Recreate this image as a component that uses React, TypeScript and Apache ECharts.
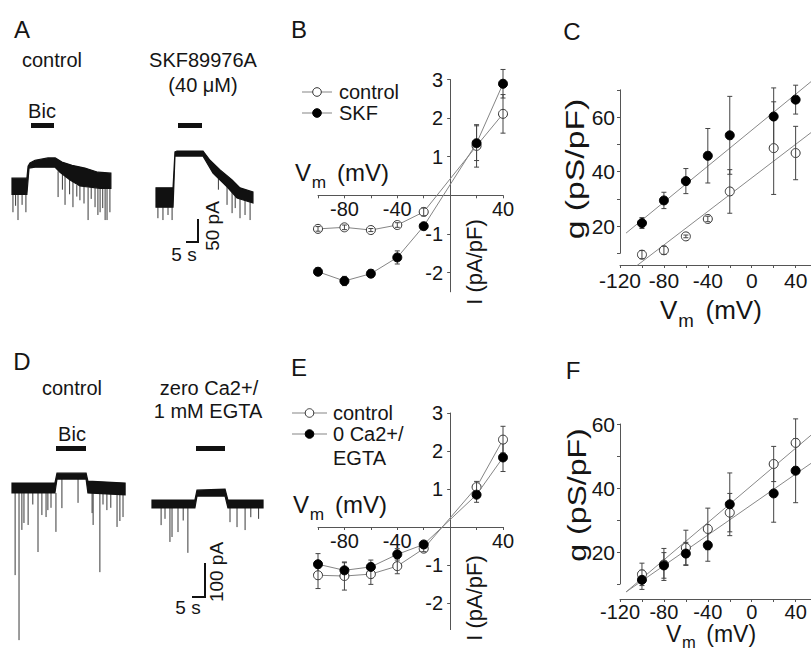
import React, { useEffect, useRef } from 'react';
import * as echarts from 'echarts';

const FONT = '"Liberation Sans", Arial, Helvetica, sans-serif';
const INK = '#151515';
const AXIS = '#555';
const LINE = '#858585';

// ---------- Panel A / D current traces (time s, current pA) ----------
const aCtrlTopT = [0, 6.2, 6.7, 7.5, 9.6, 15, 18, 20.8, 25, 30.4, 35.8, 41.2];
const aCtrlTopI = [15, 15, 41, 48, 54, 59, 59, 50, 43, 37, 28, 26];
const aCtrlBotT = [0, 6.2, 7.1, 9.6, 17.9, 20, 24.2, 28.3, 36.7, 41.2];
const aCtrlBotI = [-20, -20, 37, 39, 39, 28, 11, -2, -7, -7];
const aCtrlSpikes = [
  [0.4, -17, -59], [1.5, -17, -45], [2.5, -17, -76], [4.2, -17, -43], [5.8, -17, -59],
  [19.2, 30, -26], [21, 25, -10], [22.1, 20, -43], [24, 12, -20], [25.4, 8, -48],
  [27, 0, -25], [28.3, -2, -33], [30, -4, -40], [31.7, -5, -76], [33, -5, -30],
  [34.6, -6, -48], [35.8, -6, -65], [36.7, -7, -59], [37.8, -7, -50],
  [38.8, -7, -76], [39.6, -7, -76], [40.8, -7, -59],
];

const aSkfTopT = [0, 7.1, 7.9, 8.75, 19.6, 22.5, 26.7, 31.7, 35, 40.4];
const aSkfTopI = [-6, -6, 72, 74, 74, 54, 33, 11, -6, -15];
const aSkfBotT = [0, 7.1, 7.9, 19.6, 23.75, 29.6, 33.75, 40.4];
const aSkfBotI = [-48, -48, 63, 63, 26, -4, -28, -39];
const aSkfSpikes = [
  [0.8, -48, -72], [2.9, -48, -76], [5, -48, -65], [6.7, -48, -76],
  [26, 15, -10], [29.6, -4, -43], [31.7, -15, -61], [33, -20, -50],
  [35, -25, -72], [37.1, -32, -65], [39.2, -36, -76],
];

const dCtrlTopT = [0, 16.5, 17.3, 28.5, 29.2, 43.5];
const dCtrlTopI = [15, 15, 45, 45, 21, 15];
const dCtrlBotT = [0, 16.5, 17.3, 28.5, 29.2, 43.5];
const dCtrlBotI = [-15, -15, 27, 27, -15, -21];
const dCtrlSpikes = [
  [1.2, -15, -264], [2.7, -15, -461], [3.8, -15, -127], [4.6, -15, -106],
  [6.2, -15, -112], [8, -15, -50], [10, -15, -194], [11.5, -15, -82],
  [13.1, -15, -88], [13.8, -15, -67], [15, -15, -60], [16.9, -15, -133],
  [19.2, 27, -61], [25.4, 27, -45], [30.8, -15, -76], [31.2, -15, -112],
  [33.8, -15, -255], [35, -15, -50], [36.5, -15, -67], [38, -15, -60],
  [40.4, -15, -118], [41.5, -15, -100], [42.7, -15, -88],
];

const dEgtaTopT = [0, 16.5, 17.3, 28.1, 29.2, 42.7];
const dEgtaTopI = [12, 12, 42, 45, 12, 12];
const dEgtaBotT = [0, 16.5, 17.3, 28.1, 29.2, 42.7];
const dEgtaBotI = [-12, -12, 24, 24, -12, -12];
const dEgtaSpikes = [
  [3.5, -12, -64], [5, -12, -45], [6.9, -12, -115], [7.7, -12, -100],
  [10, -12, -85], [12, -12, -50], [13.8, -12, -148], [30, -12, -55],
  [32.7, -12, -70], [35.8, -12, -79], [38, -12, -40], [41, -12, -45],
];

// ---------- I-V relations (mV, pA/pF) ----------
const vmIV = [-100, -80, -60, -40, -20, 20, 40];
const bControl = [-0.87, -0.83, -0.9, -0.77, -0.43, 1.28, 2.11];
const bControlErr = [0.06, 0.06, 0.04, 0.06, 0.1, 0.55, 0.5];
const bSKF = [-1.98, -2.22, -2.03, -1.61, -0.8, 1.35, 2.89];
const bSKFErr = [0.1, 0.12, 0.1, 0.17, 0.05, 0.45, 0.37];

const eControl = [-1.27, -1.29, -1.24, -1.03, -0.57, 1.05, 2.3];
const eControlErr = [0.35, 0.37, 0.27, 0.2, 0.08, 0.15, 0.35];
const eEGTA = [-0.98, -1.14, -1.05, -0.72, -0.46, 0.85, 1.83];
const eEGTAErr = [0.28, 0.2, 0.18, 0.15, 0.05, 0.2, 0.37];

// ---------- conductance (pS/pF) ----------
const cSKF = [21.1, 29.4, 36.5, 45.8, 53.3, 60.2, 66.4];
const cSKFErr = [2, 3, 4.6, 10, 14.3, 10.5, 5.3];
const cControl = [9.5, 11.1, 16.2, 22.6, 32.7, 48.6, 46.8];
const cControlErr = [1.5, 1.5, 0.5, 1, 8, 17, 9.8];
const cFitV = [-114.5, 54];
const cFitSKF = [17.4, 73.0];
const cFitVCtrl = [-105.5, 54];
const cFitCtrl = [5.2, 54.3];

const fControl = [13.0, 16.1, 21.3, 27.2, 32.3, 47.5, 54.1];
const fControlErr = [3.5, 5, 5.5, 6.5, 6, 5.5, 7.5];
const fEGTA = [11.3, 15.8, 19.5, 22.1, 34.9, 38.3, 45.4];
const fEGTAErr = [3, 4, 3.5, 5, 9.8, 9, 10];
const fFitV = [-114.5, 54];
const fFitCtrl = [7.5, 56.5];
const fFitEGTA = [7.5, 47.7];

const ivXLabels = [-80, -40, 40];
const ivXTicks = [-100, -80, -60, -40, -20, 20, 40];
const ivYLabels = [-2, -1, 1, 2, 3];
const gXLabels = [-120, -80, -40, 0, 40];
const gXTicks = [-120, -100, -80, -60, -40, -20, 0, 20, 40];
const gYLabels = [20, 40, 60];
const gYTicks = [10, 20, 30, 40, 50, 60, 70];

const pairs = (xs: number[], ys: number[]) => xs.map((x, i) => [x, ys[i]]);
const triples = (xs: number[], ys: number[], es: number[]) => xs.map((x, i) => [x, ys[i], es[i]]);

function bandSeries(idx: number, tT: number[], iT: number[], tB: number[], iB: number[]) {
  return {
    type: 'custom', xAxisIndex: idx, yAxisIndex: idx, silent: true, z: 3,
    data: pairs(tT, iT),
    encode: { x: 0, y: 1 },
    renderItem: (params: any, api: any) => {
      if (params.dataIndex !== 0) return null;
      const pts: number[][] = [];
      for (let i = 0; i < tT.length; i++) pts.push(api.coord([tT[i], iT[i]]));
      for (let i = tB.length - 1; i >= 0; i--) pts.push(api.coord([tB[i], iB[i]]));
      return { type: 'polygon', shape: { points: pts }, style: { fill: '#111', stroke: '#111', lineWidth: 1.2 } };
    },
  };
}

function spikeSeries(idx: number, spikes: number[][]) {
  return {
    type: 'custom', xAxisIndex: idx, yAxisIndex: idx, silent: true, z: 2,
    data: spikes,
    encode: { x: 0, y: [1, 2] },
    renderItem: (params: any, api: any) => {
      const a = api.coord([api.value(0), api.value(1)]);
      const b = api.coord([api.value(0), api.value(2)]);
      return { type: 'line', shape: { x1: a[0], y1: a[1], x2: b[0], y2: b[1] }, style: { stroke: '#3a3a3a', lineWidth: 1 } };
    },
  };
}

function errSeries(idx: number, ys: number[], es: number[], z: number) {
  return {
    type: 'custom', xAxisIndex: idx, yAxisIndex: idx, silent: true, z,
    data: triples(vmIV, ys, es),
    encode: { x: 0, y: 1 },
    renderItem: (params: any, api: any) => {
      const x = api.value(0), y = api.value(1), e = api.value(2);
      const t = api.coord([x, y + e]);
      const b = api.coord([x, y - e]);
      const w = 2.5;
      const st = { stroke: '#444', lineWidth: 1 };
      return {
        type: 'group', children: [
          { type: 'line', shape: { x1: t[0], y1: t[1], x2: b[0], y2: b[1] }, style: st },
          { type: 'line', shape: { x1: t[0] - w, y1: t[1], x2: t[0] + w, y2: t[1] }, style: st },
          { type: 'line', shape: { x1: b[0] - w, y1: b[1], x2: b[0] + w, y2: b[1] }, style: st },
        ],
      };
    },
  };
}

const markerStyle = (filled: boolean) => filled
  ? { color: '#000', borderColor: '#000', borderWidth: 1, opacity: 1 }
  : { color: '#fff', borderColor: '#333', borderWidth: 1, opacity: 1 };

function ivLine(idx: number, name: string, ys: number[], filled: boolean, z: number) {
  return {
    type: 'line', name, xAxisIndex: idx, yAxisIndex: idx, data: pairs(vmIV, ys), z,
    symbol: 'circle', symbolSize: 9, showAllSymbol: true, silent: true, clip: false,
    lineStyle: { color: LINE, width: 1 }, itemStyle: markerStyle(filled),
  };
}

function gScatter(idx: number, name: string, ys: number[], filled: boolean, z: number) {
  return {
    type: 'scatter', name, xAxisIndex: idx, yAxisIndex: idx, data: pairs(vmIV, ys), z,
    symbol: 'circle', symbolSize: 9, silent: true, itemStyle: markerStyle(filled),
  };
}

function fitLine(idx: number, xs: number[], ys: number[]) {
  return {
    type: 'line', xAxisIndex: idx, yAxisIndex: idx, data: pairs(xs, ys), z: 1,
    symbol: 'none', silent: true, clip: true, lineStyle: { color: '#888', width: 1 },
  };
}

const hiddenAxis = (min: number, max: number) => ({ type: 'value', show: false, min, max });

const labelStyle = (size: number, margin: number) => ({ fontSize: size, fontFamily: FONT, color: INK, margin });

function ivX(min: number, max: number) {
  return {
    type: 'value', min, max, position: 'bottom',
    axisLine: { show: true, onZero: false, lineStyle: { color: AXIS, width: 1 } },
    axisTick: { show: true, length: 3, customValues: ivXTicks, lineStyle: { color: AXIS } },
    axisLabel: { ...labelStyle(20, 4), customValues: ivXLabels },
    splitLine: { show: false },
  };
}
function ivY(min: number, max: number) {
  return {
    type: 'value', min, max, position: 'left',
    axisLine: { show: true, onZero: false, lineStyle: { color: AXIS, width: 1 } },
    axisTick: { show: true, length: 3, customValues: ivYLabels, lineStyle: { color: AXIS } },
    axisLabel: { ...labelStyle(20, 7), customValues: ivYLabels },
    splitLine: { show: false },
  };
}
function gX(size: number, margin: number) {
  return {
    type: 'value', min: -120, max: 54, position: 'bottom',
    axisLine: { show: true, onZero: false, lineStyle: { color: AXIS, width: 1 } },
    axisTick: { show: true, length: 3, customValues: gXTicks, lineStyle: { color: AXIS } },
    axisLabel: { ...labelStyle(size, margin), customValues: gXLabels },
    splitLine: { show: false },
  };
}
function gY(min: number, max: number) {
  return {
    type: 'value', min, max, position: 'left',
    axisLine: { show: true, onZero: false, lineStyle: { color: AXIS, width: 1 } },
    axisTick: { show: true, length: 3, customValues: gYTicks, lineStyle: { color: AXIS } },
    axisLabel: { ...labelStyle(21, 5), customValues: gYLabels },
    splitLine: { show: false },
  };
}

function txt(text: string, x: number, y: number, size: number, extra: any = {}) {
  return {
    type: 'text', x, y, rotation: extra.rotation || 0, scaleX: extra.scaleX || 1, silent: true,
    style: {
      text, fontSize: size, fontFamily: FONT, fill: INK,
      align: extra.align || 'center', verticalAlign: 'middle',
    },
  };
}
function vmLabel(x: number, y: number, size: number, subDrop = 0.42) {
  return [
    txt('V', x, y, size, { align: 'left' }),
    txt('m', x + size * 0.7, y + size * subDrop, size * 0.72, { align: 'left' }),
    txt('(mV)', x + size * 1.75, y, size, { align: 'left' }),
  ];
}
const hline = (x1: number, y1: number, x2: number, y2: number, w: number, c = '#111') => ({
  type: 'line', silent: true, shape: { x1, y1, x2, y2 }, style: { stroke: c, lineWidth: w },
});
function legendItem(x1: number, x2: number, y: number, filled: boolean, label: string[], tx: number) {
  const els: any[] = [
    hline(x1, y, x2, y, 1, LINE),
    { type: 'circle', silent: true, shape: { cx: (x1 + x2) / 2, cy: y, r: 4.3 }, style: filled ? { fill: '#000', stroke: '#000' } : { fill: '#fff', stroke: '#333', lineWidth: 1 } },
  ];
  label.forEach((l, i) => els.push(txt(l, tx, y + i * 24, 20, { align: 'left' })));
  return els;
}

export default function App() {
  const ref = useRef<HTMLDivElement>(null);
  useEffect(() => {
    if (!ref.current) return;
    const chart = echarts.init(ref.current, undefined, { renderer: 'svg' });
    // IV panels: x -100..40 mV over 185 px
    const ivZeroX = 318 + 185 * (100 / 140);
    const ivPosW = 185 * (40 / 140);
    const grids = [
      { left: 12, top: 140, width: 100.8, height: 100.3 },   // 0 A control trace
      { left: 156, top: 140, width: 100.8, height: 100.3 },  // 1 A SKF trace
      { left: 12, top: 468.2, width: 114.4, height: 178.2 }, // 2 D control trace
      { left: 152, top: 484.2, width: 114.4, height: 72.6 }, // 3 D EGTA trace
      { left: 318, top: 79.5, width: 185, height: 212.3 },   // 4 B data
      { left: 318, top: 413, width: 185, height: 216.6 },    // 5 E data
      { left: 620, top: 76.2, width: 191.4, height: 188.8 }, // 6 C data (+x axis)
      { left: 620, top: 89.8, width: 191.4, height: 163.5 }, // 7 C y-axis
      { left: 620, top: 408, width: 191.4, height: 191 },    // 8 F data (+x axis)
      { left: 620, top: 424, width: 191.4, height: 160 },    // 9 F y-axis
      { left: 318, top: 79.5, width: 185, height: 115.8 },   // 10 B x-axis (at I = 0)
      { left: ivZeroX, top: 79.5, width: ivPosW, height: 212.3 }, // 11 B y-axis (at V = 0)
      { left: 318, top: 413, width: 185, height: 114 },      // 12 E x-axis
      { left: ivZeroX, top: 413, width: ivPosW, height: 216.6 },  // 13 E y-axis
    ].map((g) => ({ ...g, containLabel: false, show: false }));

    const xAxis = [
      hiddenAxis(0, 42), hiddenAxis(0, 42), hiddenAxis(0, 44), hiddenAxis(0, 44),
      hiddenAxis(-100, 40), hiddenAxis(-100, 40),
      gX(21, 5), hiddenAxis(-120, 54), gX(20, 3), hiddenAxis(-120, 54),
      ivX(-100, 40), hiddenAxis(0, 40), ivX(-100, 40), hiddenAxis(0, 40),
    ].map((a, i) => ({ ...a, gridIndex: i }));
    const yAxis = [
      hiddenAxis(-120, 98), hiddenAxis(-120, 98), hiddenAxis(-480, 60), hiddenAxis(-160, 60),
      hiddenAxis(-2.5, 3), hiddenAxis(-2.7, 3),
      hiddenAxis(5.7, 75), gY(10, 70), hiddenAxis(5.3, 65), gY(10, 60),
      hiddenAxis(0, 3), ivY(-2.5, 3), hiddenAxis(0, 3), ivY(-2.7, 3),
    ].map((a, i) => ({ ...a, gridIndex: i }));

    const series: any[] = [
      spikeSeries(0, aCtrlSpikes), bandSeries(0, aCtrlTopT, aCtrlTopI, aCtrlBotT, aCtrlBotI),
      spikeSeries(1, aSkfSpikes), bandSeries(1, aSkfTopT, aSkfTopI, aSkfBotT, aSkfBotI),
      spikeSeries(2, dCtrlSpikes), bandSeries(2, dCtrlTopT, dCtrlTopI, dCtrlBotT, dCtrlBotI),
      spikeSeries(3, dEgtaSpikes), bandSeries(3, dEgtaTopT, dEgtaTopI, dEgtaBotT, dEgtaBotI),

      ivLine(4, 'control', bControl, false, 2), errSeries(4, bControl, bControlErr, 3),
      errSeries(4, bSKF, bSKFErr, 2), ivLine(4, 'SKF', bSKF, true, 3),

      ivLine(5, 'control', eControl, false, 2), errSeries(5, eControl, eControlErr, 3),
      errSeries(5, eEGTA, eEGTAErr, 2), ivLine(5, '0 Ca2+/EGTA', eEGTA, true, 3),

      fitLine(6, cFitV, cFitSKF), fitLine(6, cFitVCtrl, cFitCtrl),
      gScatter(6, 'control', cControl, false, 2), errSeries(6, cControl, cControlErr, 3),
      errSeries(6, cSKF, cSKFErr, 2), gScatter(6, 'SKF', cSKF, true, 3),

      fitLine(8, fFitV, fFitCtrl), fitLine(8, fFitV, fFitEGTA),
      gScatter(8, 'control', fControl, false, 2), errSeries(8, fControl, fControlErr, 3),
      errSeries(8, fEGTA, fEGTAErr, 2), gScatter(8, '0 Ca2+/EGTA', fEGTA, true, 3),
    ];

    const graphic: any[] = [
      // panel letters
      txt('A', 22, 29, 24), txt('B', 299, 29, 24), txt('C', 572, 31, 24),
      txt('D', 22, 361, 24), txt('E', 299, 367, 24), txt('F', 573, 370, 24),
      // panel A
      txt('control', 52, 60, 20), txt('SKF89976A', 203, 60, 20), txt('(40 μM)', 203, 85, 20),
      txt('Bic', 42, 111, 20),
      { type: 'rect', silent: true, shape: { x: 31, y: 123, width: 23, height: 5 }, style: { fill: '#111' } },
      { type: 'rect', silent: true, shape: { x: 178, y: 123, width: 24, height: 5 }, style: { fill: '#111' } },
      hline(198, 219, 198, 243, 2), hline(186, 242, 199, 242, 2),
      txt('5 s', 184, 254, 19), txt('50 pA', 212, 226, 19, { rotation: Math.PI / 2 }),
      // panel D
      txt('control', 72, 388, 20), txt('zero Ca2+/', 209, 388, 20), txt('1 mM EGTA', 208, 411, 20),
      txt('Bic', 72, 434, 20),
      { type: 'rect', silent: true, shape: { x: 56, y: 446, width: 30, height: 5 }, style: { fill: '#111' } },
      { type: 'rect', silent: true, shape: { x: 196, y: 446, width: 29, height: 5 }, style: { fill: '#111' } },
      hline(205, 563, 205, 598, 2), hline(192, 597, 206, 597, 2),
      txt('5 s', 188, 607, 19), txt('100 pA', 216, 572, 19, { rotation: Math.PI / 2 }),
      // panel B
      ...legendItem(302, 332, 92, false, ['control'], 339),
      ...legendItem(302, 332, 113, true, ['SKF'], 339),
      ...vmLabel(295, 172, 24),
      txt('I (pA/pF)', 474, 262, 22, { rotation: Math.PI / 2 }),
      // panel E
      ...legendItem(292, 327, 413, false, ['control'], 333),
      ...legendItem(292, 327, 434, true, ['0 Ca2+/', 'EGTA'], 333),
      ...vmLabel(293, 504, 24),
      txt('I (pA/pF)', 474, 598, 22, { rotation: Math.PI / 2 }),
      // panel C
      txt('g (pS/pF)', 575, 169, 25, { rotation: Math.PI / 2, scaleX: 1.35 }),
      ...vmLabel(660, 310, 26),
      // panel F
      txt('g (pS/pF)', 577, 495, 25, { rotation: Math.PI / 2, scaleX: 1.28 }),
      ...vmLabel(666, 634, 23, 0.36),
    ];

    chart.setOption({
      animation: false,
      backgroundColor: '#fff',
      textStyle: { fontFamily: FONT },
      grid: grids,
      xAxis,
      yAxis,
      series,
      graphic,
    });
    return () => chart.dispose();
  }, []);
  return (
    <div
      ref={ref}
      style={{ position: 'absolute', left: 0, top: 0, width: 811, height: 654, background: '#fff' }}
    />
  );
}
